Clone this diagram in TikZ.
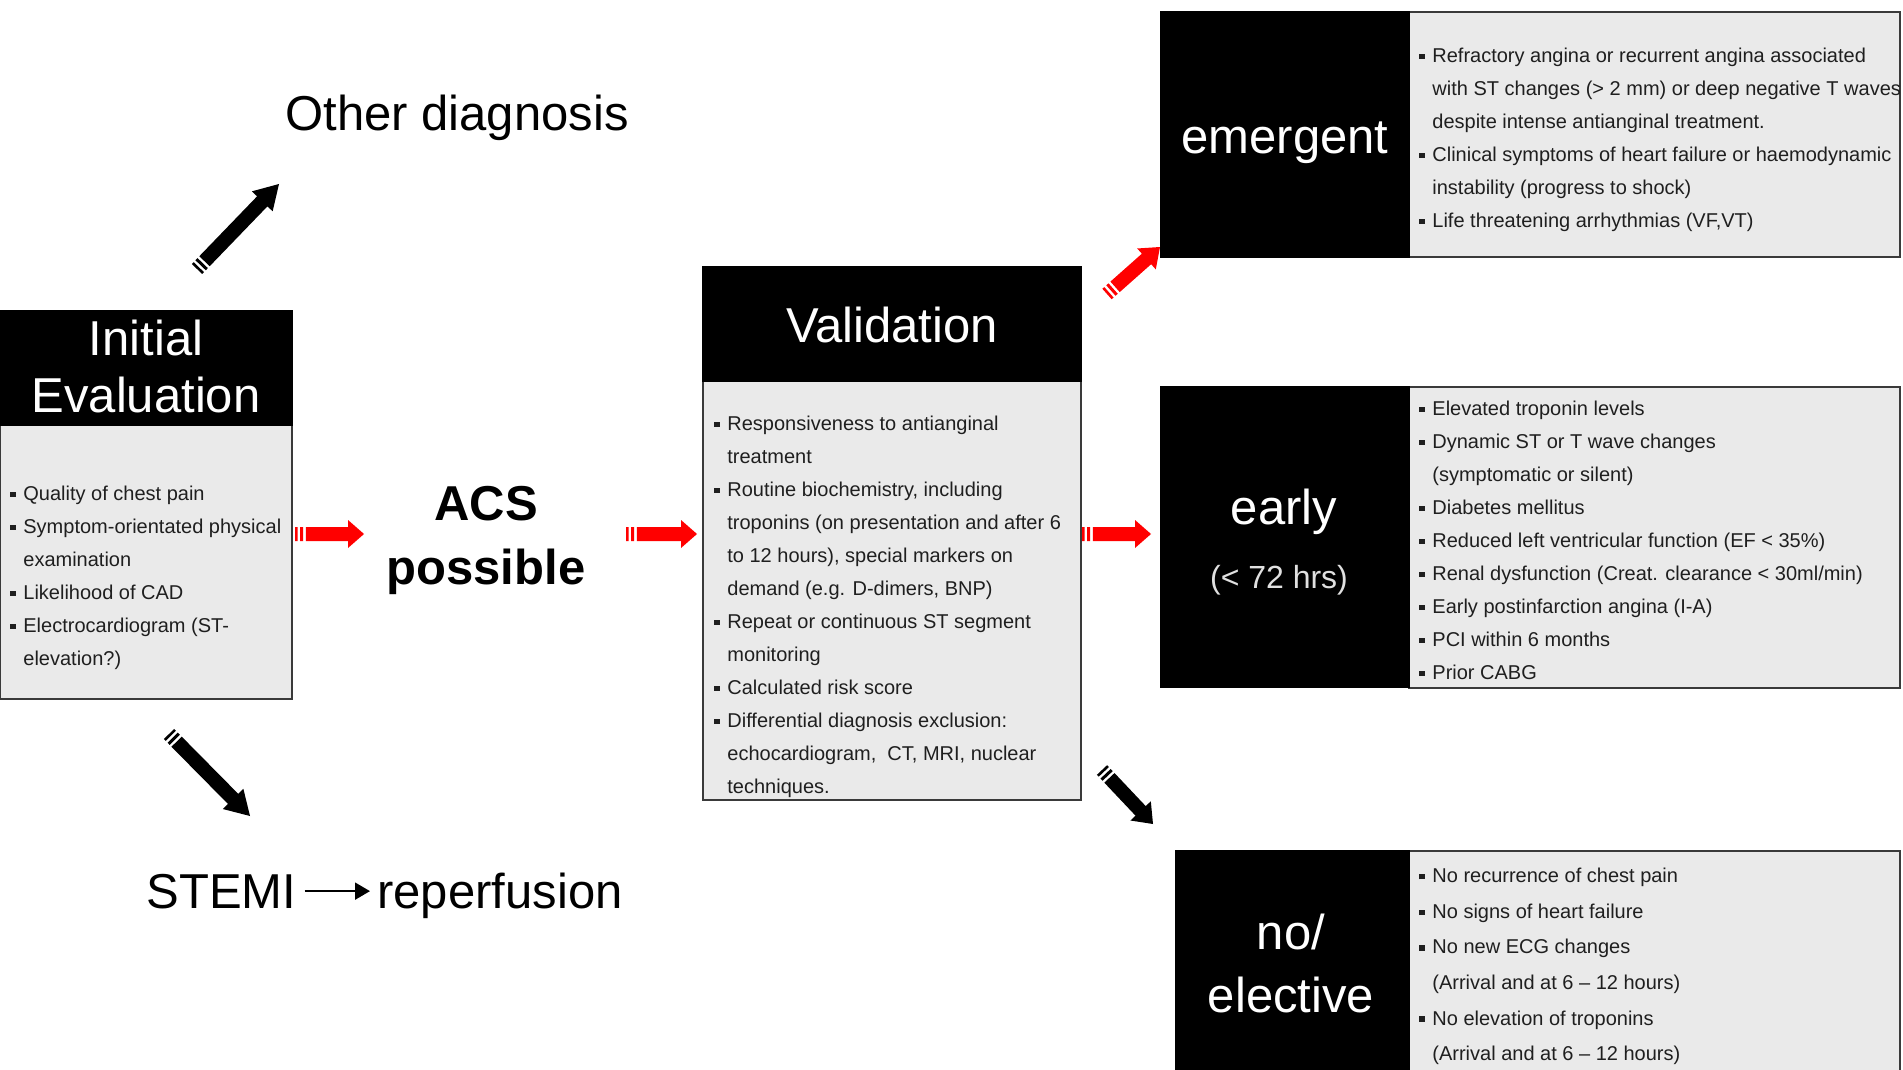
\documentclass[tikz,border=0pt]{standalone}
\usepackage{fontspec}
\setmainfont{Liberation Sans}
\usetikzlibrary{calc,arrows.meta}

\definecolor{boxgrey}{HTML}{EAEAEA}
\definecolor{edgegrey}{HTML}{3A3A3A}
\definecolor{arrred}{HTML}{FF0000}

\newcommand{\bsq}{\raisebox{1.6pt}{\rule{2.7pt}{2.7pt}}}
\newcommand{\bi}{\makebox[6.5pt][l]{\bsq}}
\newcommand{\ci}{\makebox[6.5pt]{}}

% striped block arrow: #1 tail, #2 tip, #3 colour, #4 half shaft width, #5 half head width, #6 head length
\newcommand{\stripedarrow}[6]{%
  \fill[#3] let \p1=($(#2)-(#1)$), \n1={atan2(\y1,\x1)}, \n2={veclen(\x1,\y1)-#6} in
    ($(#1)+(\n1+90:#4)$) -- ($(#1)+(\n1:1.3pt)+(\n1+90:#4)$) -- ($(#1)+(\n1:1.3pt)+(\n1-90:#4)$) -- ($(#1)+(\n1-90:#4)$) -- cycle
    ($(#1)+(\n1:2.6pt)+(\n1+90:#4)$) -- ($(#1)+(\n1:4.1pt)+(\n1+90:#4)$) -- ($(#1)+(\n1:4.1pt)+(\n1-90:#4)$) -- ($(#1)+(\n1:2.6pt)+(\n1-90:#4)$) -- cycle
    ($(#1)+(\n1:5.4pt)+(\n1+90:#4)$) -- ($(#1)+(\n1:\n2)+(\n1+90:#4)$) -- ($(#1)+(\n1:\n2)+(\n1+90:#5)$) -- (#2)
      -- ($(#1)+(\n1:\n2)+(\n1-90:#5)$) -- ($(#1)+(\n1:\n2)+(\n1-90:#4)$) -- ($(#1)+(\n1:5.4pt)+(\n1-90:#4)$) -- cycle;
}

\tikzset{
  hdrbox/.style={fill=black, draw=black, line width=0.6pt},
  greybox/.style={fill=boxgrey, draw=edgegrey, line width=0.6pt},
  hdrtext/.style={text=white, font=\fontsize{24.5}{28.5}\selectfont, align=center, inner sep=0pt},
  bodytext/.style={text=black!88, font=\fontsize{10}{16.5}\selectfont, align=left, inner sep=0pt, anchor=west},
  bigtext/.style={text=black, font=\fontsize{24.5}{30}\selectfont, inner sep=0pt},
}

\begin{document}
\begin{tikzpicture}[x=0.5pt, y=-0.5pt]
\useasboundingbox (0,0) rectangle (1903,1070);

% ---------- Initial evaluation ----------
\path[greybox] (0,425) rectangle (292,699);
\path[hdrbox] (0,311) rectangle (292,425);
\node[hdrtext] (iehead) at (146,366) {Initial\\Evaluation};
\node[bodytext] (iebody) at (10,577.5) {\bi Quality of chest pain\\
\bi Symptom-orientated physical\\
\ci examination\\
\bi Likelihood of CAD\\
\bi Electrocardiogram (ST-\\
\ci elevation?)};

% ---------- other diagnosis ----------
\node[bigtext] (other) at (457,118) {Other diagnosis};

% ---------- ACS possible ----------
\node[bigtext, font=\bfseries\fontsize{24.5}{32}\selectfont, align=center] (acs) at (486,540) {ACS\\possible};

% ---------- STEMI ----------
\node[bigtext, anchor=base west] (stemi) at (146,908) {STEMI};
\node[bigtext, anchor=base west] (reperf) at (377,908) {reperfusion};
\draw[line width=1pt, -{Triangle[length=7.5pt,width=8.5pt]}, shorten <=4pt, shorten >=3.5pt]
  (stemi.east) -- (stemi.east -| reperf.west);

% ---------- Validation ----------
\path[greybox] (703,381) rectangle (1081,800);
\path[hdrbox] (703,267) rectangle (1081,381);
\node[hdrtext] (valhead) at (892,325) {Validation};
\node[bodytext] (valbody) at (714,606.5) {\bi Responsiveness to antianginal\\
\ci treatment\\
\bi Routine biochemistry, including\\
\ci troponins (on presentation and after 6\\
\ci to 12 hours), special markers on\\
\ci demand (e.g. D-dimers, BNP)\\
\bi Repeat or continuous ST segment\\
\ci monitoring\\
\bi Calculated risk score\\
\bi Differential diagnosis exclusion:\\
\ci echocardiogram,\ \ CT, MRI, nuclear\\
\ci techniques.};

% ---------- emergent ----------
\path[greybox] (1409,12) rectangle (1900,257);
\path[hdrbox] (1161,12) rectangle (1409,257);
\node[hdrtext] (emhead) at (1285,143) {emergent};
\node[bodytext] (embody) at (1419,139.5) {\bi Refractory angina or recurrent angina associated\\
\ci with ST changes (> 2 mm) or deep negative T waves\\
\ci despite intense antianginal treatment.\\
\bi Clinical symptoms of heart failure or haemodynamic\\
\ci instability (progress to shock)\\
\bi Life threatening arrhythmias (VF,VT)};

% ---------- early ----------
\path[greybox] (1409,387) rectangle (1900,688);
\path[hdrbox] (1161,387) rectangle (1409,687);
\node[hdrtext] (earlyhead) at (1284,512) {early};
\node[hdrtext, text=black!12, font=\fontsize{16}{19}\selectfont] (earlysub) at (1279,580) {(< 72 hrs)};
\node[bodytext] (earlybody) at (1419,540) {\bi Elevated troponin levels\\
\bi Dynamic ST or T wave changes\\
\ci (symptomatic or silent)\\
\bi Diabetes mellitus\\
\bi Reduced left ventricular function (EF < 35\%)\\
\bi Renal dysfunction (Creat. clearance < 30ml/min)\\
\bi Early postinfarction angina (I-A)\\
\bi PCI within 6 months\\
\bi Prior CABG};

% ---------- no / elective ----------
\path[greybox] (1409,851) rectangle (1900,1075);
\path[hdrbox] (1176,851) rectangle (1409,1075);
\node[hdrtext, font=\fontsize{24.5}{31.5}\selectfont] (nohead) at (1291,963) {no/\\elective};
\node[bodytext, font=\fontsize{10}{17.8}\selectfont] (nobody) at (1419,966.5) {\bi No recurrence of chest pain\\
\bi No signs of heart failure\\
\bi No new ECG changes\\
\ci (Arrival and at 6 – 12 hours)\\
\bi No elevation of troponins\\
\ci (Arrival and at 6 – 12 hours)};

% ---------- arrows ----------
\coordinate (o1t) at (197,269);  \coordinate (o1h) at (279,184);
\coordinate (s1t) at (169,734);  \coordinate (s1h) at (250,816);
\coordinate (r1t) at (295,534);  \coordinate (r1h) at (364,534);
\coordinate (r2t) at (626,534);  \coordinate (r2h) at (697,534);
\coordinate (r3t) at (1082,534); \coordinate (r3h) at (1151,534);
\coordinate (r4t) at (1107,294); \coordinate (r4h) at (1160,247);
\coordinate (b3t) at (1102,770); \coordinate (b3h) at (1153,824);

\stripedarrow{o1t}{o1h}{black}{3.6pt}{7.2pt}{12pt}
\stripedarrow{s1t}{s1h}{black}{3.6pt}{7.2pt}{12pt}
\stripedarrow{r1t}{r1h}{arrred}{3.5pt}{7pt}{8pt}
\stripedarrow{r2t}{r2h}{arrred}{3.5pt}{7pt}{8pt}
\stripedarrow{r3t}{r3h}{arrred}{3.5pt}{7pt}{8pt}
\stripedarrow{r4t}{r4h}{arrred}{3.5pt}{7pt}{9pt}
\stripedarrow{b3t}{b3h}{black}{3.5pt}{7pt}{9pt}
\end{tikzpicture}
\end{document}
